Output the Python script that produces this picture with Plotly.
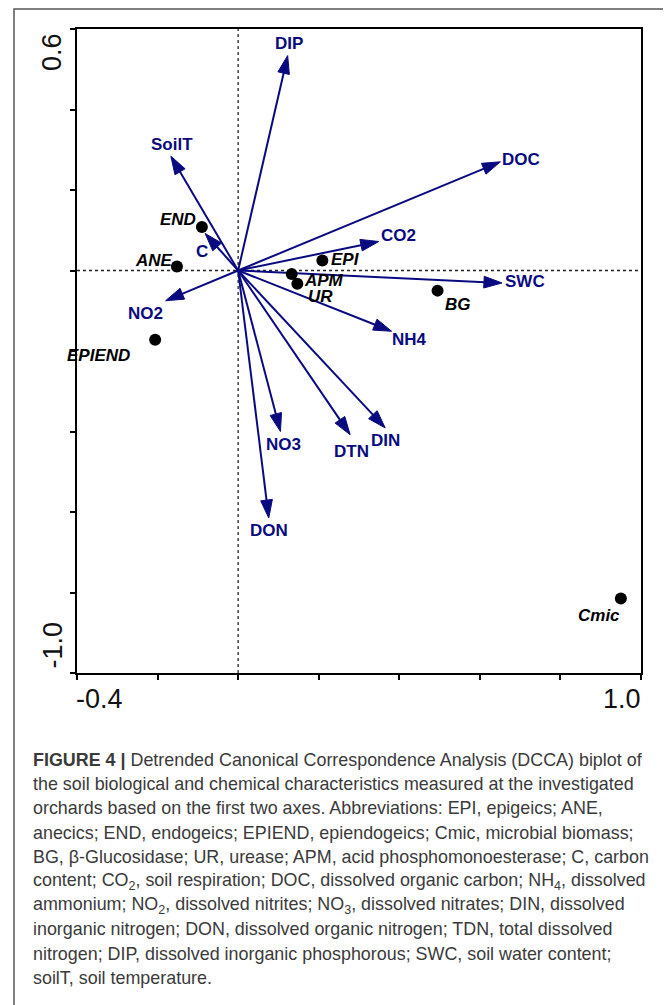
import plotly.graph_objects as go

# ---------------- data ----------------
vector_names = ["DIP", "SoilT", "C", "NO2", "DOC", "CO2", "SWC", "NH4", "NO3", "DON", "DTN", "DIN"]
vector_x = [0.123, -0.167, -0.082, -0.180, 0.651, 0.349, 0.655, 0.381, 0.105, 0.076, 0.278, 0.365]
vector_y = [0.534, 0.284, 0.092, -0.075, 0.270, 0.072, -0.031, -0.151, -0.400, -0.615, -0.408, -0.391]

sample_names = ["END", "ANE", "EPIEND", "EPI", "APM", "UR", "BG", "Cmic"]
sample_x = [-0.090, -0.152, -0.206, 0.209, 0.133, 0.147, 0.495, 0.950]
sample_y = [0.108, 0.010, -0.172, 0.025, -0.009, -0.033, -0.050, -0.815]

x_tick_values = [-0.4, -0.2, 0.0, 0.2, 0.4, 0.6, 0.8, 1.0]
y_tick_values = [-1.0, -0.8, -0.6, -0.4, -0.2, 0.0, 0.2, 0.4, 0.6]
x_end_labels = ["-0.4", "1.0"]
y_end_labels = ["0.6", "-1.0"]

caption_lines = [
    "<b>FIGURE 4 |</b> Detrended Canonical Correspondence Analysis (DCCA) biplot of",
    "the soil biological and chemical characteristics measured at the investigated",
    "orchards based on the first two axes. Abbreviations: EPI, epigeics; ANE,",
    "anecics; END, endogeics; EPIEND, epiendogeics; Cmic, microbial biomass;",
    "BG, β-Glucosidase; UR, urease; APM, acid phosphomonoesterase; C, carbon",
    "content; CO<sub>2</sub>, soil respiration; DOC, dissolved organic carbon; NH<sub>4</sub>, dissolved",
    "ammonium; NO<sub>2</sub>, dissolved nitrites; NO<sub>3</sub>, dissolved nitrates; DIN, dissolved",
    "inorganic nitrogen; DON, dissolved organic nitrogen; TDN, total dissolved",
    "nitrogen; DIP, dissolved inorganic phosphorous; SWC, soil water content;",
    "soilT, soil temperature.",
]

# ---------------- styling (label offsets in px) ----------------
NAVY = "#0a0a80"
vector_label_offsets = {
    "DIP": (1, 12), "SoilT": (1, 12), "C": (-3, -18), "NO2": (-20, -13),
    "DOC": (21, 2), "CO2": (20, 6), "SWC": (23, 1), "NH4": (18, -8),
    "NO3": (3, -13), "DON": (0, -12), "DTN": (1, -17), "DIN": (0, -13),
}
sample_label_offsets = {
    "END": (-24, 8), "ANE": (-23, 6), "EPIEND": (-57, -16), "EPI": (23, 1),
    "APM": (32, -6), "UR": (23, -13), "BG": (20, -14), "Cmic": (-22, -17),
}

# page body adds an 8px offset; plot area wanted at x 77..641, y 29..673
OFF = 8
PLOT_L, PLOT_T, PLOT_W, PLOT_H = 77, 29, 564, 644

fig = go.Figure()

# vectors with arrow heads
for name, vx, vy in zip(vector_names, vector_x, vector_y):
    fig.add_trace(go.Scatter(
        x=[0, vx], y=[0, vy], mode="lines+markers",
        line=dict(color=NAVY, width=2),
        marker=dict(symbol="arrow", size=[0, 19], angleref="previous", color=NAVY,
                    opacity=1, line=dict(color=NAVY, width=1)),
        hoverinfo="skip", showlegend=False,
    ))

# sample points
fig.add_trace(go.Scatter(
    x=sample_x, y=sample_y, mode="markers",
    marker=dict(color="black", size=12, line=dict(width=0)),
    hoverinfo="skip", showlegend=False,
))

annotations = []
for name, vx, vy in zip(vector_names, vector_x, vector_y):
    dx, dy = vector_label_offsets[name]
    annotations.append(dict(
        x=vx, y=vy, xref="x", yref="y", text=f"<b>{name}</b>", showarrow=False,
        xshift=dx, yshift=dy, xanchor="center", yanchor="middle",
        font=dict(family="Liberation Sans, Arial", size=17, color=NAVY),
    ))
for name, sx, sy in zip(sample_names, sample_x, sample_y):
    dx, dy = sample_label_offsets[name]
    annotations.append(dict(
        x=sx, y=sy, xref="x", yref="y", text=f"<b><i>{name}</i></b>", showarrow=False,
        xshift=dx, yshift=dy, xanchor="center", yanchor="middle",
        font=dict(family="Liberation Sans, Arial", size=17, color="black"),
    ))

# axis end labels
tick_font = dict(family="Liberation Sans, Arial", size=27, color="#111111")
annotations.append(dict(x=x_tick_values[0], y=0, xref="x", yref="paper", text=x_end_labels[0],
                        showarrow=False, xanchor="left", yanchor="top", yshift=-9, xshift=-3, font=tick_font))
annotations.append(dict(x=x_tick_values[-1], y=0, xref="x", yref="paper", text=x_end_labels[1],
                        showarrow=False, xanchor="right", yanchor="top", yshift=-9, xshift=2, font=tick_font))
annotations.append(dict(x=0, y=y_tick_values[-1], xref="paper", yref="y", text=y_end_labels[0],
                        showarrow=False, xanchor="center", yanchor="top", xshift=-25, yshift=-2,
                        textangle=-90, font=tick_font))
annotations.append(dict(x=0, y=y_tick_values[0], xref="paper", yref="y", text=y_end_labels[1],
                        showarrow=False, xanchor="center", yanchor="bottom", xshift=-25, yshift=2,
                        textangle=-90, font=tick_font))

# caption lines
for i, line in enumerate(caption_lines):
    py = 760 + 24.2 * i
    annotations.append(dict(
        x=0, y=(PLOT_T + PLOT_H - py) / PLOT_H, xref="paper", yref="paper",
        text=line, showarrow=False, xanchor="left", yanchor="middle", xshift=-46,
        font=dict(family="Liberation Sans, Arial", size=17.9, color="#3a3a3a"),
    ))

shapes = [
    dict(type="line", xref="x", yref="paper", x0=0, x1=0, y0=0, y1=1,
         line=dict(color="#222222", width=1.3, dash="dot"), layer="below"),
    dict(type="line", xref="paper", yref="y", x0=0, x1=1, y0=0, y1=0,
         line=dict(color="#222222", width=1.3, dash="dot"), layer="below"),
    # outer figure frame
    dict(type="rect", xref="paper", yref="paper",
         x0=(14 - PLOT_L) / PLOT_W, x1=(720 - PLOT_L) / PLOT_W,
         y0=(PLOT_T + PLOT_H - 1060) / PLOT_H, y1=(PLOT_T + PLOT_H - 9) / PLOT_H,
         line=dict(color="#555555", width=1.5), layer="below"),
]

axis_common = dict(
    showgrid=False, zeroline=False, showline=True, mirror=True,
    linecolor="black", linewidth=2, ticks="outside", ticklen=5, tickwidth=1.5,
    tickcolor="black", showticklabels=False,
)

fig.update_layout(
    width=671, height=1005,
    margin=dict(l=PLOT_L - OFF, r=671 - PLOT_L - PLOT_W + OFF,
                t=PLOT_T - OFF, b=1005 - PLOT_T - PLOT_H + OFF),
    paper_bgcolor="white", plot_bgcolor="white",
    xaxis=dict(range=[x_tick_values[0], x_tick_values[-1]], tickvals=x_tick_values, **axis_common),
    yaxis=dict(range=[y_tick_values[0], y_tick_values[-1]], tickvals=y_tick_values, **axis_common),
    annotations=annotations, shapes=shapes,
    showlegend=False,
)

fig.write_html("out.html")
